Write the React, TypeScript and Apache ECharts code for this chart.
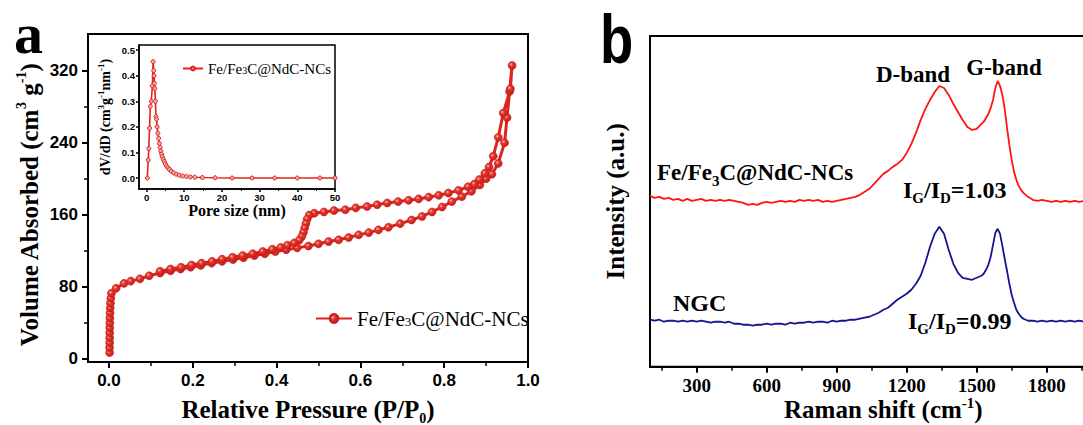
import React, { useEffect, useRef } from 'react';
import * as echarts from 'echarts';

// ---------- Panel a: N2 isotherm (adsorption then desorption) ----------
const ADS_P = [0.0015,0.0015,0.0016,0.0017,0.0018,0.0019,0.002,0.0022,0.0025,0.003,0.0035,0.0045,0.006,0.017,0.036,0.052,0.074,0.096,0.122,0.147,0.171,0.195,0.219,0.245,0.27,0.296,0.321,0.347,0.372,0.397,0.423,0.449,0.476,0.5,0.524,0.548,0.572,0.596,0.62,0.643,0.667,0.695,0.722,0.747,0.771,0.795,0.818,0.842,0.865,0.885,0.9,0.914,0.929,0.944,0.95,0.956,0.962];
const ADS_V = [6.5,12,17.5,23,28.5,34,39.5,45,50.5,56,61.5,67,72.5,78,83.5,86,88.5,92,95,97.5,99.5,101.5,103.5,106,108,110,112,114.5,116.5,119,121,123,125,127.5,130,132,134.5,137.5,140,143,146,150,154,158,163,168.5,174.5,180,186,193,200,205,217,240,268,297,326];
const DES_P = [0.958,0.941,0.929,0.917,0.907,0.897,0.884,0.872,0.857,0.834,0.81,0.787,0.763,0.739,0.715,0.69,0.664,0.64,0.616,0.589,0.564,0.537,0.513,0.49,0.478,0.473,0.47,0.467,0.464,0.46,0.454,0.442,0.426,0.41,0.39,0.367,0.343,0.319,0.295,0.27,0.246,0.221,0.197,0.172,0.147,0.122];
const DES_V = [300,273,246,225,213,206,199,194,191,187,184,181.5,179.5,177.5,176,174.5,173,171,169,167.5,165.5,164.5,163,161.5,159.5,155,150,145,140,135.5,131.5,128.5,126,123.5,121.5,119,116.5,114.5,112.5,110.5,108,106,104,101.5,99.5,97];

// ---------- Inset: pore size distribution ----------
const PSD_D = [0.2,0.45,0.6,0.8,1.0,1.25,1.55,1.75,1.9,2.0,2.1,2.2,2.35,2.5,2.65,2.8,3.0,3.2,3.4,3.6,3.8,4.0,4.2,4.45,4.7,5.0,5.3,5.7,6.1,6.6,7.2,7.9,8.7,9.6,10.6,11.6,12.8,14.8,18.2,22.7,28,34,40,46,50];
const PSD_V = [0.0,0.07,0.115,0.195,0.28,0.30,0.36,0.455,0.42,0.40,0.37,0.35,0.30,0.24,0.23,0.2,0.175,0.155,0.135,0.12,0.105,0.093,0.083,0.073,0.064,0.055,0.047,0.04,0.033,0.026,0.02,0.015,0.011,0.008,0.006,0.004,0.003,0.002,0.001,0.0,0.0,0.0,0.0,0.0,0.0];

// ---------- Panel b: Raman spectra ----------
const RAMAN_SHIFT = [100,120,140,160,180,200,220,240,260,280,300,320,340,360,380,400,420,440,460,480,500,520,540,560,580,600,620,640,660,680,700,720,740,760,780,800,820,840,860,880,900,920,940,960,980,1000,1020,1040,1060,1080,1100,1120,1140,1160,1180,1200,1220,1240,1260,1280,1300,1320,1340,1360,1380,1400,1420,1440,1460,1480,1500,1520,1530,1540,1550,1560,1570,1580,1590,1600,1610,1620,1630,1640,1650,1660,1670,1680,1690,1700,1720,1740,1760,1780,1800,1820,1840,1860,1880,1900,1920,1940,1960,1980,2000];
const RAMAN_FE = [171,169,170,168,169,167,168,166,168,166,167,168,166,167,166,167,166,167,166,165,164,162,163,162,164,165,164,165,166,165,166,165,167,166,167,166,167,165,166,165,166,167,168,169,170,172,175,178,183,188,193,196,200,203,207,214,223,234,247,258,267,275,281,279,272,263,255,247,240,237,238,243,245,249,253,259,267,279,286,281,272,258,239,222,207,195,187,181,177,174,170,167,166,167,166,165,166,165,166,165,166,165,166,165,166];
const RAMAN_NGC = [47,46,47,45,46,46,45,46,45,46,45,46,45,44,45,45,44,45,43,43,42,42,41,42,42,43,42,43,43,42,44,43,44,44,45,44,45,45,44,46,45,46,46,47,47,48,49,50,52,54,57,59,63,67,70,73,77,83,91,104,120,133,140,133,117,103,94,89,88,87,89,91,93,97,102,110,122,134,138,133,121,108,96,83,72,64,57,53,50,48,46,46,45,46,45,46,45,46,45,46,45,46,45,46,45];

// ---------- Tick values ----------
const ISO_X_TICKS = [0, 0.2, 0.4, 0.6, 0.8, 1.0];
const ISO_X_MINOR = [0.1, 0.3, 0.5, 0.7, 0.9];
const ISO_Y_TICKS = [0, 80, 160, 240, 320];
const ISO_Y_MINOR = [40, 120, 200, 280];
const PSD_X_TICKS = [0, 10, 20, 30, 40, 50];
const PSD_X_MINOR = [5, 15, 25, 35, 45];
const PSD_Y_TICKS = [0, 0.1, 0.2, 0.3, 0.4, 0.5];
const RAMAN_X_TICKS = [300, 600, 900, 1200, 1500, 1800];
const RAMAN_X_MINOR = [150, 450, 750, 1050, 1350, 1650, 1950];

const SAMPLE = 'Fe/Fe3C@NdC-NCs';
const SAMPLE_PSD = 'Fe/Fe3C@NdC-NCs (pore size)';
const REF = 'NGC';

const SERIF = "'Liberation Serif','Times New Roman',serif";
const SANS = "'Liberation Sans',Arial,sans-serif";
const ISO_RED = '#df2420';
const RAMAN_RED = '#ff1414';
const RAMAN_BLUE = '#151590';

const zip = (xs: number[], ys: number[]) => xs.map((x, i) => [x, ys[i]]);

function mainAxis(gridIndex: number, min: number, max: number, ticks: number[], tickLen: number, lw: number, label: any, fmt?: (v: number) => string) {
  return {
    type: 'value', gridIndex, min, max,
    axisLine: { show: true, onZero: false, lineStyle: { color: '#000', width: lw } },
    axisTick: { show: ticks.length > 0, inside: false, length: tickLen, customValues: ticks, lineStyle: { color: '#000', width: lw } },
    axisLabel: label ? { show: true, customValues: ticks, formatter: fmt, color: '#000', ...label } : { show: false },
    splitLine: { show: false },
  };
}
function minorAxis(gridIndex: number, min: number, max: number, ticks: number[], tickLen: number, lw: number, position: string) {
  return {
    type: 'value', gridIndex, min, max, position,
    axisLine: { show: false, onZero: false },
    axisTick: { show: true, inside: false, length: tickLen, customValues: ticks, lineStyle: { color: '#000', width: lw } },
    axisLabel: { show: false },
    splitLine: { show: false },
  };
}
const boldSerif = (size: number) => ({ fontFamily: SERIF, fontWeight: 'bold', fontSize: size, color: '#000' });

export default function App() {
  const ref = useRef<HTMLDivElement>(null);
  useEffect(() => {
    if (!ref.current) return;
    const chart = echarts.init(ref.current, undefined, { renderer: 'svg', width: 1083, height: 425 });

    const markerFill = new echarts.graphic.RadialGradient(0.38, 0.38, 0.62, [
      { offset: 0, color: '#f9c0b4' },
      { offset: 0.35, color: '#e63a2f' },
      { offset: 1, color: '#c41c1a' },
    ]);

    const xA0: any = mainAxis(0, -0.05, 1.0, ISO_X_TICKS, 6, 2, { fontFamily: SANS, fontWeight: 'bold', fontSize: 17, margin: 10 }, (v: number) => v.toFixed(1));
    xA0.position = 'bottom';
    xA0.name = '{t|Relative Pressure (P/P}{sub|0}{t|)}';
    xA0.nameLocation = 'middle';
    xA0.nameGap = 31;
    xA0.nameTextStyle = { ...boldSerif(25), rich: { t: boldSerif(25), sub: { ...boldSerif(14), padding: [18, 0, 0, 0] } } };

    const yA0: any = mainAxis(0, -4, 361, ISO_Y_TICKS, 6, 2, { fontFamily: SANS, fontWeight: 'bold', fontSize: 17, margin: 10 }, (v: number) => String(v));
    yA0.position = 'left';
    yA0.name = '{t|Volume Absorbed (cm}{sup|3}{t| g}{sup|-1}{t|)}';
    yA0.nameLocation = 'middle';
    yA0.nameRotate = 90;
    yA0.nameGap = 44;
    yA0.nameTextStyle = { ...boldSerif(25), padding: [0, 14, 0, 0], rich: { t: boldSerif(25), sup: { ...boldSerif(14), padding: [0, 0, 16, 0] } } };

    const xA2: any = mainAxis(1, -2, 50, PSD_X_TICKS, 3, 1.5, { fontFamily: SANS, fontWeight: 'bold', fontSize: 9.5, margin: 3 }, (v: number) => String(v));
    xA2.position = 'bottom';
    xA2.name = 'Pore size (nm)';
    xA2.nameLocation = 'middle';
    xA2.nameGap = 12;
    xA2.nameTextStyle = boldSerif(16);

    const yA2: any = mainAxis(1, -0.043, 0.52, PSD_Y_TICKS, 3, 1.5, { fontFamily: SANS, fontWeight: 'bold', fontSize: 9.5, margin: 4 }, (v: number) => v.toFixed(1));
    yA2.position = 'left';
    yA2.name = '{t|dV/dD (cm}{sup|3}{t|g}{sup|-1}{t|nm}{sup|-1}{t|)}';
    yA2.nameLocation = 'middle';
    yA2.nameRotate = 90;
    yA2.nameGap = 25;
    yA2.nameTextStyle = { ...boldSerif(14), rich: { t: boldSerif(14), sup: { ...boldSerif(9), padding: [0, 0, 9, 0] } } };

    const xA4: any = mainAxis(2, 100, 2100, RAMAN_X_TICKS, 6, 2, { fontFamily: SERIF, fontWeight: 'bold', fontSize: 19, margin: 9 }, (v: number) => String(v));
    xA4.position = 'bottom';
    xA4.name = '{t|Raman shift (cm}{sup|-1}{t|)}';
    xA4.nameLocation = 'middle';
    xA4.nameGap = 29;
    xA4.nameMoveOverlap = false;
    xA4.nameTextStyle = {
      ...boldSerif(25),
      rich: {
        t: { ...boldSerif(25), lineHeight: 27, verticalAlign: 'middle' },
        sup: { ...boldSerif(15), lineHeight: 15, verticalAlign: 'top' },
      },
    };

    const yA3: any = mainAxis(2, 0, 331, [], 0, 2, null);
    yA3.position = 'left';
    yA3.name = 'Intensity (a.u.)';
    yA3.nameLocation = 'middle';
    yA3.nameRotate = 90;
    yA3.nameGap = 22;
    yA3.nameTextStyle = boldSerif(25);

    const option: any = {
      animation: false,
      backgroundColor: '#fff',
      grid: [
        { left: 88, top: 34, width: 440, height: 328, show: true, borderColor: '#000', borderWidth: 2, backgroundColor: 'transparent', outerBoundsMode: 'none', containLabel: false },
        { left: 139, top: 45, width: 196, height: 144, show: true, borderColor: '#000', borderWidth: 1.5, backgroundColor: '#fff', outerBoundsMode: 'none', containLabel: false },
        { left: 650, top: 36, width: 466.7, height: 330.7, show: true, borderColor: '#000', borderWidth: 2, backgroundColor: 'transparent', outerBoundsMode: 'none', containLabel: false },
      ],
      xAxis: [
        xA0,
        minorAxis(0, -0.05, 1.0, ISO_X_MINOR, 4, 1.5, 'bottom'),
        xA2,
        minorAxis(1, -2, 50, PSD_X_MINOR, 2, 1, 'bottom'),
        xA4,
        minorAxis(2, 100, 2100, RAMAN_X_MINOR, 4, 1.5, 'bottom'),
      ],
      yAxis: [
        yA0,
        minorAxis(0, -4, 361, ISO_Y_MINOR, 4, 1.5, 'left'),
        yA2,
        yA3,
      ],
      legend: [
        {
          data: [SAMPLE], left: 310, top: 303, itemWidth: 36, itemHeight: 11, selectedMode: false,
          formatter: () => '{m|Fe/Fe}{s|3}{m|C@NdC-NCs}',
          textStyle: {
            fontFamily: SERIF, fontSize: 21, color: '#000',
            rich: {
              m: { fontFamily: SERIF, fontSize: 21, color: '#000' },
              s: { fontFamily: SERIF, fontSize: 13, color: '#000', padding: [6, 0, 0, 0] },
            },
          },
        },
        {
          data: [SAMPLE_PSD], left: 177, top: 56, itemWidth: 20, itemHeight: 5, itemGap: 4, selectedMode: false,
          formatter: () => '{m|Fe/Fe}{s|3}{m|C@NdC-NCs}',
          textStyle: {
            fontFamily: SERIF, fontSize: 15, color: '#000',
            rich: {
              m: { fontFamily: SERIF, fontSize: 15, color: '#000' },
              s: { fontFamily: SERIF, fontSize: 10, color: '#000', padding: [4, 0, 0, 0] },
            },
          },
        },
      ],
      series: [
        {
          name: SAMPLE, type: 'line', xAxisIndex: 0, yAxisIndex: 0,
          data: zip(ADS_P, ADS_V).concat(zip(DES_P, DES_V)),
          symbol: 'circle', symbolSize: 8, showSymbol: true,
          lineStyle: { color: ISO_RED, width: 3 },
          itemStyle: { color: markerFill, borderColor: '#c81e1c', borderWidth: 0.6 },
          emphasis: { disabled: true },
        },
        {
          name: SAMPLE_PSD, type: 'line', xAxisIndex: 2, yAxisIndex: 2,
          data: zip(PSD_D, PSD_V),
          symbol: 'circle', symbolSize: 4, showSymbol: true,
          lineStyle: { color: ISO_RED, width: 1.6 },
          itemStyle: { color: '#f2a9a3', borderColor: ISO_RED, borderWidth: 1 },
          emphasis: { disabled: true },
        },
        {
          name: SAMPLE + ' Raman', type: 'line', xAxisIndex: 4, yAxisIndex: 3,
          data: zip(RAMAN_SHIFT, RAMAN_FE), showSymbol: false,
          lineStyle: { color: RAMAN_RED, width: 1.8 },
          emphasis: { disabled: true },
        },
        {
          name: REF, type: 'line', xAxisIndex: 4, yAxisIndex: 3,
          data: zip(RAMAN_SHIFT, RAMAN_NGC), showSymbol: false,
          lineStyle: { color: RAMAN_BLUE, width: 1.8 },
          emphasis: { disabled: true },
        },
      ],
      graphic: [
        { type: 'text', x: 14, y: 33, style: { text: 'a', fontFamily: SERIF, fontWeight: 'bold', fontSize: 58, fill: '#000', align: 'left', verticalAlign: 'middle' } },
        { type: 'text', x: 600, y: 39.5, scaleX: 0.8, style: { text: 'b', fontFamily: SANS, fontWeight: 'bold', fontSize: 68, fill: '#000', align: 'left', verticalAlign: 'middle' } },
        { type: 'text', x: 913, y: 74, style: { text: 'D-band', fontFamily: SERIF, fontWeight: 'bold', fontSize: 23, fill: '#000', align: 'center', verticalAlign: 'middle' } },
        { type: 'text', x: 1004, y: 67.5, style: { text: 'G-band', fontFamily: SERIF, fontWeight: 'bold', fontSize: 23, fill: '#000', align: 'center', verticalAlign: 'middle' } },
        {
          type: 'text', x: 657, y: 172.5,
          style: {
            text: '{t|Fe/Fe}{s|3}{t|C@NdC-NCs}', align: 'left', verticalAlign: 'middle',
            fontFamily: SERIF, fontWeight: 'bold', fontSize: 23, fill: '#000',
            rich: {
              t: { fontFamily: SERIF, fontWeight: 'bold', fontSize: 23, fill: '#000' },
              s: { fontFamily: SERIF, fontWeight: 'bold', fontSize: 15, fill: '#000', padding: [16, 0, 0, 0] },
            },
          },
        },
        {
          type: 'text', x: 903, y: 189.5,
          style: {
            text: '{t|I}{s|G}{t|/I}{s|D}{t|=1.03}', align: 'left', verticalAlign: 'middle',
            fontFamily: SERIF, fontWeight: 'bold', fontSize: 24, fill: '#000',
            rich: {
              t: { fontFamily: SERIF, fontWeight: 'bold', fontSize: 24, fill: '#000' },
              s: { fontFamily: SERIF, fontWeight: 'bold', fontSize: 15, fill: '#000', padding: [16, 0, 0, 0] },
            },
          },
        },
        { type: 'text', x: 673, y: 303, style: { text: 'NGC', fontFamily: SERIF, fontWeight: 'bold', fontSize: 24, fill: '#000', align: 'left', verticalAlign: 'middle' } },
        {
          type: 'text', x: 908, y: 320.5,
          style: {
            text: '{t|I}{s|G}{t|/I}{s|D}{t|=0.99}', align: 'left', verticalAlign: 'middle',
            fontFamily: SERIF, fontWeight: 'bold', fontSize: 24, fill: '#000',
            rich: {
              t: { fontFamily: SERIF, fontWeight: 'bold', fontSize: 24, fill: '#000' },
              s: { fontFamily: SERIF, fontWeight: 'bold', fontSize: 15, fill: '#000', padding: [16, 0, 0, 0] },
            },
          },
        },
      ],
    };

    chart.setOption(option);
    return () => chart.dispose();
  }, []);

  return (
    <div
      ref={ref}
      style={{ position: 'absolute', left: 0, top: 0, width: 1083, height: 425, background: '#fff', overflow: 'hidden' }}
    />
  );
}
